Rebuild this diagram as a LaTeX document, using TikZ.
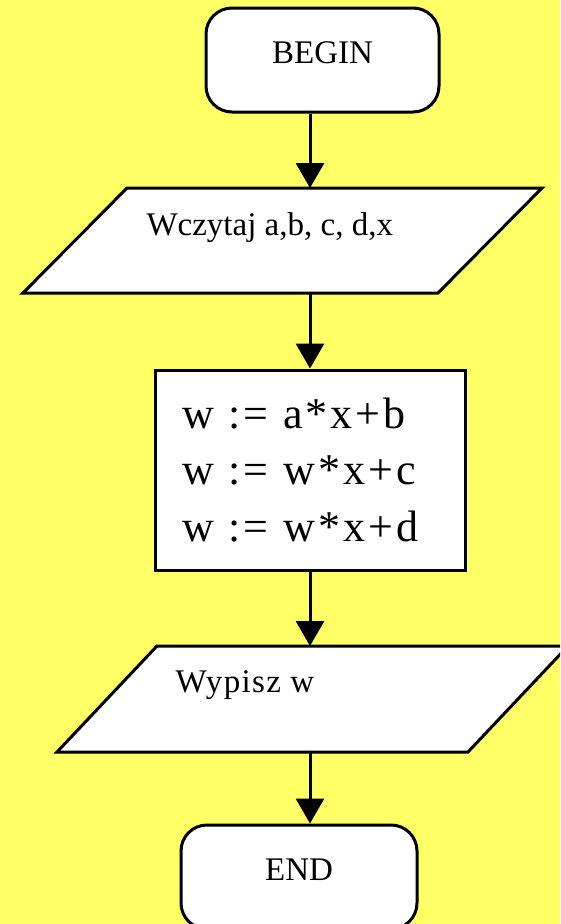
\documentclass[tikz,border=0pt]{standalone}
\usepackage{fontspec}
\setmainfont{Liberation Serif}
\newfontfamily\calcfont[LetterSpace=7]{Liberation Serif}
\newfontfamily\wideiofont[LetterSpace=4]{Liberation Serif}
\usepackage{tikz}
\usetikzlibrary{arrows.meta}
\definecolor{chartyellow}{RGB}{255, 255, 102}

\begin{document}
\begin{tikzpicture}[x=1pt, y=1pt, line width=3pt,
    terminal/.style={draw, fill=white, rectangle, rounded corners=26pt, minimum width=233pt, minimum height=104pt, text depth=14pt, font=\fontsize{33}{40}\selectfont},
    iobody/.style={rectangle, inner sep=0pt, outer sep=0pt, minimum height=105pt},
    ioshape/.style={draw, fill=white},
    iotext/.style={anchor=base west, inner sep=0pt, font=\fontsize{33}{40}\selectfont},
    calcbox/.style={draw, fill=white, rectangle, minimum width=310pt, minimum height=200pt, text width=256pt, align=left, font=\calcfont\fontsize{44}{56.5}\selectfont},
    flow/.style={-{Triangle[width=28pt, length=25pt]}}]
    % Background
    \clip (0,0) rectangle (560,-924);
    \fill[chartyellow] (0,0) rectangle (560,-924);

    % Terminals and process
    \node[terminal] (start) at (322.5,-60) {BEGIN};
    \node[calcbox] (calc) at (310,-470) {w := a*x+b\\ w := w*x+c\\ w := w*x+d};
    \node[terminal, minimum width=236pt] (stop) at (299,-877) {END};

    % Input (parallelogram round its body)
    \node[iobody, minimum width=311pt] (read) at (282.5,-240.5) {};
    \draw[ioshape] ([xshift=-104pt]read.south west) -- (read.south east)
        -- ([xshift=104pt]read.north east) -- (read.north west) -- cycle;
    \node[iotext] (readtxt) at (145,-235) {Wczytaj a,b, c, d,x};

    % Output
    \node[iobody, minimum width=311pt, minimum height=106pt] (write) at (312.5,-699) {};
    \draw[ioshape] ([xshift=-100pt]write.south west) -- (write.south east)
        -- ([xshift=100pt]write.north east) -- (write.north west) -- cycle;
    \node[iotext, font=\wideiofont\fontsize{33}{40}\selectfont] (writetxt) at (174,-692) {Wypisz w};

    % Flow
    \draw[flow] (start.south -| calc.north) -- (read.north -| calc.north);
    \draw[flow] (read.south -| calc.north) -- (calc.north);
    \draw[flow] (calc.south) -- (write.north -| calc.south);
    \draw[flow] (write.south -| calc.south) -- (stop.north -| calc.south);
\end{tikzpicture}
\end{document}
